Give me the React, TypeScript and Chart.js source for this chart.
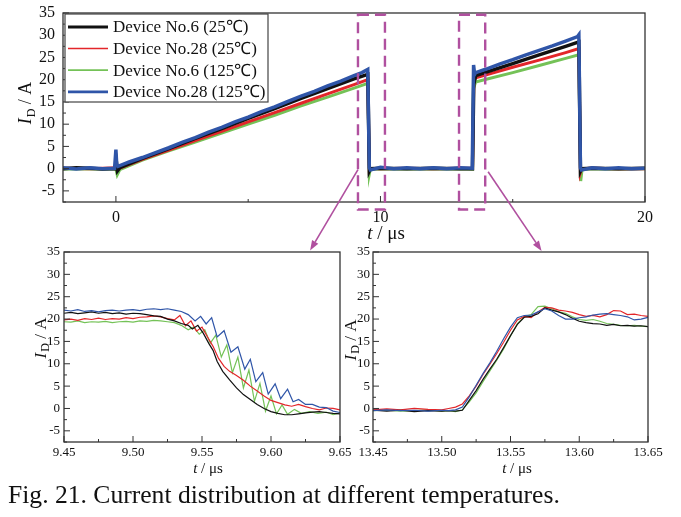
import React, { useEffect, useRef } from "react";
import { Chart, registerables } from "chart.js";

Chart.register(...registerables);

// ---------------- DATA ----------------
const seriesLabels = [
  "Device No.6 (25℃)",
  "Device No.28 (25℃)",
  "Device No.6 (125℃)",
  "Device No.28 (125℃)",
];

// Top overview chart (t in µs, I_D in A)
const topNo6_25: number[][] = [
  [-2, 0], [-1.5, 0.2], [-1, 0.1], [-0.5, -0.1], [-0.05, 0], [0.02, 1.5], [0.06, -0.5], [0.15, 0.2],
  [1, 2.3], [2, 4.5], [3, 6.8], [4, 9.0], [5, 11.3], [6, 13.5], [7, 15.8], [8, 18.0], [9, 20.2],
  [9.52, 21.2], [9.55, 11], [9.58, -0.5], [9.62, 0], [10, 0.1], [11, 0], [12, 0.1], [13, 0],
  [13.48, 0], [13.53, 20], [13.56, 19.8], [13.6, 20.9], [14, 21.7], [15, 23.6], [16, 25.6],
  [17, 27.5], [17.5, 28.5], [17.53, 14], [17.56, -0.5], [17.6, 0], [18, 0.1], [19, 0], [20, 0.1],
];
const topNo28_25: number[][] = [
  [-2, 0.1], [-1, 0], [0, 0.2], [0.05, -0.3], [0.15, 0.1], [1, 2.1], [2, 4.2], [3, 6.3], [4, 8.4],
  [5, 10.5], [6, 12.6], [7, 14.7], [8, 16.8], [9, 18.9], [9.52, 20.0], [9.55, 10], [9.58, -0.3],
  [9.62, 0.1], [10, 0], [11, 0.1], [12, 0], [13, 0.1], [13.48, 0.1], [13.53, 21], [13.56, 20.0],
  [13.6, 20.4], [14, 21.1], [15, 22.8], [16, 24.4], [17, 26.1], [17.5, 27.0], [17.53, 13],
  [17.56, -0.8], [17.6, 0], [18, 0.1], [19, 0], [20, 0],
];
const topNo6_125: number[][] = [
  [-2, -0.1], [-1, 0], [0, -0.1], [0.05, -1.4], [0.15, -0.2], [1, 1.9], [2, 4.0], [3, 6.0], [4, 8.0],
  [5, 10.0], [6, 12.0], [7, 14.1], [8, 16.1], [9, 18.1], [9.52, 19.2], [9.55, 9], [9.58, -1.2],
  [9.62, 0], [10, -0.1], [11, 0], [12, -0.1], [13, 0], [13.48, -0.1], [13.52, 22.5], [13.56, 18.8],
  [13.6, 19.5], [14, 20.1], [15, 21.6], [16, 23.2], [17, 24.8], [17.5, 25.6], [17.53, 12],
  [17.57, -2.8], [17.62, -0.2], [18, 0], [19, -0.1], [20, 0],
];
const topNo28_125: number[][] = [
  [-2, 0.2], [-1.5, -0.1], [-1, 0.2], [-0.5, 0], [-0.05, 0.1], [0, 4.3], [0.03, 1.0], [0.08, 0.5],
  [0.5, 1.5], [1, 2.5], [1.5, 3.6], [2, 4.7], [2.5, 5.9], [3, 7.0], [3.5, 8.2], [4, 9.3], [4.5, 10.5],
  [5, 11.6], [5.5, 12.8], [6, 13.9], [6.5, 15.1], [7, 16.3], [7.5, 17.4], [8, 18.6], [8.5, 19.7],
  [9, 20.9], [9.3, 21.6], [9.52, 22.3], [9.55, 11], [9.58, 0.2], [9.62, -0.3], [10, 0.3], [10.5, 0],
  [11, 0.2], [11.5, 0], [12, 0.2], [12.5, 0], [13, 0.2], [13.47, 0.1], [13.52, 23.3], [13.56, 21.2],
  [13.6, 21.6], [14, 22.4], [14.5, 23.5], [15, 24.5], [15.5, 25.6], [16, 26.6], [16.5, 27.6],
  [17, 28.7], [17.45, 29.7], [17.5, 30.1], [17.53, 15], [17.56, 0.2], [17.6, -0.3], [18, 0.2],
  [18.5, 0], [19, 0.2], [19.5, 0], [20, 0.1],
];

// Bottom-left zoom: turn-off (9.45–9.65 µs)
const offNo6_25: number[][] = [
  [9.45, 21.3], [9.455, 21.5], [9.46, 21.2], [9.465, 21.4], [9.47, 21.6], [9.475, 21.3], [9.48, 21.5],
  [9.485, 21.2], [9.49, 21.4], [9.495, 21.1], [9.5, 21.3], [9.505, 21.2], [9.51, 21.0], [9.515, 20.7],
  [9.52, 20.6], [9.525, 20.0], [9.53, 19.6], [9.535, 19.0], [9.54, 18.6], [9.543, 17.8], [9.547, 18.6],
  [9.551, 16.8], [9.555, 14.5], [9.558, 13.0], [9.561, 10.5], [9.565, 8.3], [9.57, 6.4], [9.575, 4.6],
  [9.58, 3.1], [9.585, 2.0], [9.59, 0.9], [9.595, 0.0], [9.6, -0.7], [9.605, -1.1], [9.61, -1.4],
  [9.615, -1.4], [9.62, -1.2], [9.625, -1.0], [9.63, -0.8], [9.635, -0.7], [9.64, -0.9], [9.645, -1.1],
  [9.65, -1.2],
];
const offNo28_25: number[][] = [
  [9.45, 19.8], [9.455, 20.0], [9.46, 19.7], [9.465, 20.1], [9.47, 19.9], [9.475, 20.2], [9.48, 19.9],
  [9.485, 20.1], [9.49, 20.0], [9.495, 20.3], [9.5, 20.1], [9.505, 20.4], [9.51, 20.5], [9.515, 20.7],
  [9.52, 20.5], [9.525, 20.1], [9.53, 19.8], [9.534, 20.8], [9.538, 18.5], [9.542, 19.6], [9.546, 17.3],
  [9.55, 18.2], [9.554, 16.0], [9.558, 13.9], [9.562, 11.2], [9.566, 9.4], [9.57, 8.3], [9.575, 7.4],
  [9.58, 6.3], [9.585, 5.0], [9.59, 3.9], [9.595, 2.8], [9.6, 1.8], [9.605, 1.3], [9.61, 0.8],
  [9.615, 0.5], [9.62, 0.9], [9.625, 0.4], [9.63, 0.0], [9.635, -0.3], [9.64, 0.1], [9.645, 0.0],
  [9.65, -0.3],
];
const offNo6_125: number[][] = [
  [9.45, 19.4], [9.455, 19.3], [9.46, 19.6], [9.465, 19.2], [9.47, 19.4], [9.475, 19.3], [9.48, 19.5],
  [9.485, 19.2], [9.49, 19.4], [9.495, 19.5], [9.5, 19.3], [9.505, 19.6], [9.51, 19.5], [9.515, 19.7],
  [9.52, 19.6], [9.525, 19.4], [9.53, 19.2], [9.535, 18.6], [9.54, 17.6], [9.544, 18.2], [9.548, 16.6],
  [9.552, 17.6], [9.556, 14.6], [9.56, 16.4], [9.564, 11.5], [9.568, 14.2], [9.572, 8.0], [9.576, 11.5],
  [9.58, 4.6], [9.584, 8.6], [9.588, 1.6], [9.592, 5.6], [9.596, -0.6], [9.6, 2.8], [9.604, -1.2],
  [9.608, 0.8], [9.612, -1.3], [9.617, -0.2], [9.622, -1.1], [9.628, -0.7], [9.634, -1.1], [9.64, -0.8],
  [9.645, -1.4], [9.65, -1.0],
];
const offNo28_125: number[][] = [
  [9.45, 22.0], [9.455, 21.8], [9.46, 22.1], [9.465, 21.7], [9.47, 21.9], [9.475, 21.6], [9.48, 21.9],
  [9.485, 22.0], [9.49, 21.8], [9.495, 22.0], [9.5, 22.1], [9.505, 21.9], [9.51, 22.2], [9.515, 22.3],
  [9.52, 22.1], [9.525, 22.3], [9.53, 22.0], [9.535, 21.7], [9.54, 21.0], [9.545, 19.6], [9.549, 20.6],
  [9.553, 18.9], [9.557, 20.3], [9.561, 16.0], [9.566, 17.4], [9.571, 12.6], [9.576, 13.8], [9.581, 8.8],
  [9.585, 11.0], [9.589, 6.0], [9.594, 8.0], [9.598, 3.2], [9.603, 5.5], [9.607, 2.2], [9.612, 4.3],
  [9.616, 1.5], [9.62, 2.0], [9.625, 0.9], [9.63, 0.9], [9.635, 0.3], [9.64, 0.2], [9.645, -0.6],
  [9.65, -0.9],
];

// Bottom-right zoom: turn-on (13.45–13.65 µs)
const onNo6_25: number[][] = [
  [13.45, -0.4], [13.46, -0.6], [13.47, -0.4], [13.48, -0.7], [13.49, -0.5], [13.5, -0.6], [13.505, -0.5],
  [13.51, -0.6], [13.515, -0.4], [13.52, 1.8], [13.525, 4.0], [13.53, 6.5], [13.535, 8.8], [13.54, 11.0],
  [13.545, 13.6], [13.55, 16.3], [13.555, 18.8], [13.56, 20.4], [13.565, 20.6], [13.57, 21.2],
  [13.575, 22.5], [13.58, 22.0], [13.585, 21.6], [13.59, 21.0], [13.595, 20.2], [13.6, 19.5],
  [13.605, 19.2], [13.61, 19.0], [13.615, 18.9], [13.62, 18.6], [13.625, 18.8], [13.63, 18.5],
  [13.635, 18.6], [13.64, 18.4], [13.645, 18.5], [13.65, 18.3],
];
const onNo28_25: number[][] = [
  [13.45, -0.3], [13.46, -0.1], [13.47, -0.3], [13.48, 0.0], [13.49, -0.2], [13.5, -0.3], [13.505, 0.0],
  [13.51, 0.3], [13.515, 1.0], [13.52, 2.8], [13.525, 5.0], [13.53, 7.6], [13.535, 9.9], [13.54, 12.3],
  [13.545, 14.8], [13.55, 17.5], [13.555, 19.8], [13.56, 20.6], [13.565, 20.3], [13.57, 21.6],
  [13.575, 22.6], [13.58, 22.5], [13.585, 22.0], [13.59, 21.8], [13.595, 21.5], [13.6, 21.0],
  [13.605, 20.6], [13.61, 20.8], [13.615, 20.5], [13.62, 21.0], [13.625, 21.9], [13.63, 21.8],
  [13.635, 21.0], [13.64, 21.1], [13.645, 20.8], [13.65, 20.6],
];
const onNo6_125: number[][] = [
  [13.45, -0.5], [13.46, -0.4], [13.47, -0.6], [13.48, -0.5], [13.49, -0.3], [13.5, -0.6], [13.505, -0.5],
  [13.51, -0.7], [13.515, -0.3], [13.52, 1.5], [13.525, 3.5], [13.53, 6.0], [13.535, 8.4], [13.54, 10.8],
  [13.545, 13.3], [13.55, 16.2], [13.555, 19.0], [13.56, 20.5], [13.565, 21.0], [13.57, 22.8],
  [13.575, 22.9], [13.58, 22.3], [13.585, 21.6], [13.59, 21.3], [13.595, 20.5], [13.6, 19.9],
  [13.605, 19.7], [13.61, 19.9], [13.615, 19.5], [13.62, 19.0], [13.625, 18.8], [13.63, 18.6],
  [13.635, 18.5], [13.64, 18.6], [13.645, 18.4], [13.65, 18.3],
];
const onNo28_125: number[][] = [
  [13.45, -0.5], [13.46, -0.3], [13.47, -0.5], [13.48, -0.4], [13.49, -0.6], [13.5, -0.4], [13.505, -0.5],
  [13.51, -0.3], [13.515, 0.3], [13.52, 2.6], [13.525, 5.2], [13.53, 7.8], [13.535, 10.2], [13.54, 12.8],
  [13.545, 15.6], [13.55, 18.2], [13.555, 20.3], [13.56, 20.8], [13.565, 20.9], [13.57, 21.6],
  [13.575, 22.3], [13.58, 21.8], [13.585, 20.8], [13.59, 20.0], [13.595, 20.0], [13.6, 20.3],
  [13.605, 20.5], [13.61, 20.9], [13.615, 21.1], [13.62, 21.2], [13.625, 21.0], [13.63, 20.8],
  [13.635, 20.5], [13.64, 19.8], [13.645, 20.0], [13.65, 20.4],
];

// Ticks
const yTicks = [-5, 0, 5, 10, 15, 20, 25, 30, 35];
const yMinorTicks = [-7.5, -2.5, 2.5, 7.5, 12.5, 17.5, 22.5, 27.5, 32.5];
const topXTicks = [0, 10, 20];
const topXMinorTicks = [5, 15];
const offXTicks = [9.45, 9.5, 9.55, 9.6, 9.65];
const offXMinorTicks = [9.475, 9.525, 9.575, 9.625];
const onXTicks = [13.45, 13.5, 13.55, 13.6, 13.65];
const onXMinorTicks = [13.475, 13.525, 13.575, 13.625];

// Zoom-window markers on the overview, in overview data units [t0, t1, Ibottom, Itop]
const zoomWindows = [
  [9.15, 10.17, -9.2, 34.6],
  [12.97, 13.96, -9.2, 34.6],
];
// Arrows from overview to zoom panels [tStart, IStart, tEnd, IEnd] in overview data units
const zoomArrows = [
  [9.15, -0.2, 7.34, -18.4],
  [14.07, -0.7, 16.09, -18.5],
];

const caption = "Fig. 21. Current distribution at different temperatures.";

// ---------------- STYLE ----------------
const SERIF = '"Liberation Serif", "Times New Roman", Times, serif';
const COLORS = ["#111111", "#e3262a", "#74c257", "#2f55a8"];
const PURPLE = "#b0509f";

type Spec = {
  id: string;
  series: number[][][];
  widths: number[];
  order: number[];
  xMin: number; xMax: number;
  xTicks: number[]; xMinor: number[];
  xFmt: (v: number) => string;
  padding: { left: number; top: number; right: number; bottom: number };
  xAxisHeight: number; yAxisWidth: number;
  tickFont: number; xTickPad: number; yTickPad: number;
  yTitle: [number, number, number];
  xTitle: [number, number, number];
  legend?: boolean;
  annotate?: boolean;
};

function drawIdTitle(ctx: CanvasRenderingContext2D, cx: number, cy: number, size: number) {
  ctx.save();
  ctx.translate(cx, cy);
  ctx.rotate(-Math.PI / 2);
  ctx.fillStyle = "#111";
  ctx.textBaseline = "alphabetic";
  ctx.textAlign = "left";
  const fi = `italic ${size}px ${SERIF}`;
  const fs = `${Math.round(size * 0.68)}px ${SERIF}`;
  const fr = `${size}px ${SERIF}`;
  ctx.font = fi; const wI = ctx.measureText("I").width + 1;
  ctx.font = fs; const wD = ctx.measureText("D").width;
  ctx.font = fr; const wR = ctx.measureText(" / A").width;
  const x0 = -(wI + wD + wR) / 2;
  const base = size * 0.33;
  ctx.font = fi; ctx.fillText("I", x0, base);
  ctx.font = fs; ctx.fillText("D", x0 + wI, base + size * 0.22);
  ctx.font = fr; ctx.fillText(" / A", x0 + wI + wD, base);
  ctx.restore();
}

function drawTTitle(ctx: CanvasRenderingContext2D, cx: number, cy: number, size: number) {
  ctx.save();
  ctx.fillStyle = "#111";
  ctx.textBaseline = "alphabetic";
  ctx.textAlign = "left";
  const fi = `italic ${size}px ${SERIF}`;
  const fr = `${size}px ${SERIF}`;
  ctx.font = fi; const wT = ctx.measureText("t").width;
  ctx.font = fr; const wR = ctx.measureText(" / μs").width;
  const x0 = cx - (wT + wR) / 2;
  const base = cy + size * 0.3;
  ctx.font = fi; ctx.fillText("t", x0, base);
  ctx.font = fr; ctx.fillText(" / μs", x0 + wT, base);
  ctx.restore();
}

function figurePlugin(spec: Spec) {
  return {
    id: "figure_" + spec.id,
    afterDraw(chart: any) {
      const ctx: CanvasRenderingContext2D = chart.ctx;
      const a = chart.chartArea;
      const xs = chart.scales.x;
      const ys = chart.scales.y;
      ctx.save();
      // frame
      ctx.strokeStyle = "#333";
      ctx.lineWidth = 1.3;
      ctx.strokeRect(a.left, a.top, a.right - a.left, a.bottom - a.top);
      // inward ticks
      ctx.lineWidth = 1;
      ctx.beginPath();
      spec.xTicks.forEach((v) => { const p = xs.getPixelForValue(v); ctx.moveTo(p, a.bottom); ctx.lineTo(p, a.bottom - 6); });
      spec.xMinor.forEach((v) => { const p = xs.getPixelForValue(v); ctx.moveTo(p, a.bottom); ctx.lineTo(p, a.bottom - 3); });
      yTicks.forEach((v) => { const p = ys.getPixelForValue(v); ctx.moveTo(a.left, p); ctx.lineTo(a.left + 6, p); });
      yMinorTicks.forEach((v) => { const p = ys.getPixelForValue(v); ctx.moveTo(a.left, p); ctx.lineTo(a.left + 3, p); });
      ctx.stroke();
      // titles
      drawIdTitle(ctx, spec.yTitle[0], spec.yTitle[1], spec.yTitle[2]);
      drawTTitle(ctx, spec.xTitle[0], spec.xTitle[1], spec.xTitle[2]);
      // legend
      if (spec.legend) {
        const bx = a.left + 2, by = a.top + 1, bw = 203, bh = 88;
        ctx.fillStyle = "#fff";
        ctx.fillRect(bx, by, bw, bh);
        ctx.strokeStyle = "#444";
        ctx.lineWidth = 1.2;
        ctx.strokeRect(bx, by, bw, bh);
        const lw = [2.8, 1.5, 1.8, 2.8];
        ctx.font = `17px ${SERIF}`;
        ctx.textBaseline = "middle";
        ctx.textAlign = "left";
        seriesLabels.forEach((lab, i) => {
          const yy = by + 13 + i * 21.6;
          ctx.strokeStyle = COLORS[i];
          ctx.lineWidth = lw[i];
          ctx.beginPath();
          ctx.moveTo(bx + 3, yy);
          ctx.lineTo(bx + 43, yy);
          ctx.stroke();
          ctx.fillStyle = "#111";
          ctx.fillText(lab, bx + 48, yy + 1);
        });
      }
      // zoom markers
      if (spec.annotate) {
        ctx.strokeStyle = PURPLE;
        ctx.lineWidth = 2.4;
        ctx.setLineDash([11, 6]);
        zoomWindows.forEach(([t0, t1, i0, i1]) => {
          const x0 = xs.getPixelForValue(t0), x1 = xs.getPixelForValue(t1);
          const y0 = ys.getPixelForValue(i1), y1 = ys.getPixelForValue(i0);
          ctx.strokeRect(x0, y0, x1 - x0, y1 - y0);
        });
        ctx.setLineDash([]);
        ctx.lineWidth = 1.6;
        ctx.fillStyle = PURPLE;
        zoomArrows.forEach(([t0, i0, t1, i1]) => {
          const x0 = xs.getPixelForValue(t0), y0 = ys.getPixelForValue(i0);
          const x1 = xs.getPixelForValue(t1), y1 = ys.getPixelForValue(i1);
          const ang = Math.atan2(y1 - y0, x1 - x0);
          const L = 10, W = 3.6;
          const bxp = x1 - L * Math.cos(ang), byp = y1 - L * Math.sin(ang);
          ctx.beginPath();
          ctx.moveTo(x0, y0);
          ctx.lineTo(bxp, byp);
          ctx.stroke();
          ctx.beginPath();
          ctx.moveTo(x1, y1);
          ctx.lineTo(bxp + W * Math.sin(ang), byp - W * Math.cos(ang));
          ctx.lineTo(bxp - W * Math.sin(ang), byp + W * Math.cos(ang));
          ctx.closePath();
          ctx.fill();
        });
      }
      ctx.restore();
    },
  };
}

function buildChart(canvas: HTMLCanvasElement, spec: Spec) {
  return new Chart(canvas, {
    type: "line",
    data: {
      datasets: spec.series.map((pts, i) => ({
        label: seriesLabels[i],
        data: pts.map(([x, y]) => ({ x, y })),
        borderColor: COLORS[i],
        backgroundColor: COLORS[i],
        borderWidth: spec.widths[i],
        pointRadius: 0,
        tension: 0,
        fill: false,
        order: spec.order[i],
      })),
    },
    options: {
      responsive: false,
      animation: false,
      devicePixelRatio: 1,
      events: [],
      layout: { padding: spec.padding },
      plugins: { legend: { display: false }, tooltip: { enabled: false }, title: { display: false } },
      scales: {
        x: {
          type: "linear",
          min: spec.xMin,
          max: spec.xMax,
          grid: { display: false, drawTicks: false },
          border: { display: false },
          ticks: {
            autoSkip: false,
            maxRotation: 0,
            padding: spec.xTickPad,
            color: "#111",
            font: { family: SERIF, size: spec.tickFont },
            callback: (v: any) => spec.xFmt(Number(v)),
          },
          afterBuildTicks: (s: any) => { s.ticks = spec.xTicks.map((v) => ({ value: v })); },
          afterFit: (s: any) => {
            s.height = spec.xAxisHeight;
            s.paddingLeft = 0; s.paddingRight = 0; s.paddingTop = 0; s.paddingBottom = 0;
          },
        },
        y: {
          type: "linear",
          min: -7.5,
          max: 35,
          grid: { display: false, drawTicks: false },
          border: { display: false },
          ticks: {
            autoSkip: false,
            padding: spec.yTickPad,
            color: "#111",
            font: { family: SERIF, size: spec.tickFont },
            callback: (v: any) => String(v),
          },
          afterBuildTicks: (s: any) => { s.ticks = yTicks.map((v) => ({ value: v })); },
          afterFit: (s: any) => {
            s.width = spec.yAxisWidth;
            s.paddingLeft = 0; s.paddingRight = 0; s.paddingTop = 0; s.paddingBottom = 0;
          },
        },
      },
    },
    plugins: [figurePlugin(spec) as any],
  } as any);
}

const topSpec: Spec = {
  id: "top",
  series: [topNo6_25, topNo28_25, topNo6_125, topNo28_125],
  widths: [3.5, 3, 3, 3.5],
  order: [1, 2, 3, 0],
  xMin: -2, xMax: 20,
  xTicks: topXTicks, xMinor: topXMinorTicks,
  xFmt: (v) => String(v),
  padding: { left: 0, top: 13, right: 36, bottom: 277 },
  xAxisHeight: 38, yAxisWidth: 63,
  tickFont: 16, xTickPad: 6, yTickPad: 8,
  yTitle: [25, 103, 18],
  xTitle: [386, 233, 19],
  legend: true,
  annotate: true,
};

const offSpec: Spec = {
  id: "off",
  series: [offNo6_25, offNo28_25, offNo6_125, offNo28_125],
  widths: [1.2, 1.2, 1.2, 1.2],
  order: [1, 2, 3, 0],
  xMin: 9.45, xMax: 9.65,
  xTicks: offXTicks, xMinor: offXMinorTicks,
  xFmt: (v) => v.toFixed(2),
  padding: { left: 0, top: 17, right: 25, bottom: 0 },
  xAxisHeight: 38, yAxisWidth: 64,
  tickFont: 13, xTickPad: 3, yTickPad: 4,
  yTitle: [40, 103, 17],
  xTitle: [208, 233, 15],
};

const onSpec: Spec = {
  id: "on",
  series: [onNo6_25, onNo28_25, onNo6_125, onNo28_125],
  widths: [1.2, 1.2, 1.2, 1.2],
  order: [1, 2, 3, 0],
  xMin: 13.45, xMax: 13.65,
  xTicks: onXTicks, xMinor: onXMinorTicks,
  xFmt: (v) => v.toFixed(2),
  padding: { left: 0, top: 17, right: 33, bottom: 0 },
  xAxisHeight: 38, yAxisWidth: 43,
  tickFont: 13, xTickPad: 3, yTickPad: 3,
  yTitle: [20, 105, 17],
  xTitle: [187, 233, 15],
};

function Panel({ spec, left, top, width, height }: { spec: Spec; left: number; top: number; width: number; height: number }) {
  const ref = useRef<HTMLCanvasElement>(null);
  useEffect(() => {
    if (!ref.current) return;
    const chart = buildChart(ref.current, spec);
    return () => chart.destroy();
  }, [spec]);
  return (
    <canvas
      ref={ref}
      width={width}
      height={height}
      style={{ position: "absolute", left, top, width, height }}
    />
  );
}

export default function App() {
  return (
    <div style={{ position: "absolute", left: 0, top: 0, width: 681, height: 517, background: "#fff", overflow: "hidden" }}>
      <Panel spec={topSpec} left={0} top={0} width={681} height={517} />
      <Panel spec={offSpec} left={0} top={235} width={365} height={245} />
      <Panel spec={onSpec} left={330} top={235} width={351} height={245} />
      <div
        style={{
          position: "absolute",
          left: 8,
          top: 482,
          fontFamily: SERIF,
          fontSize: 25.6,
          lineHeight: "25px",
          color: "#111",
          whiteSpace: "nowrap",
        }}
      >
        {caption}
      </div>
    </div>
  );
}
